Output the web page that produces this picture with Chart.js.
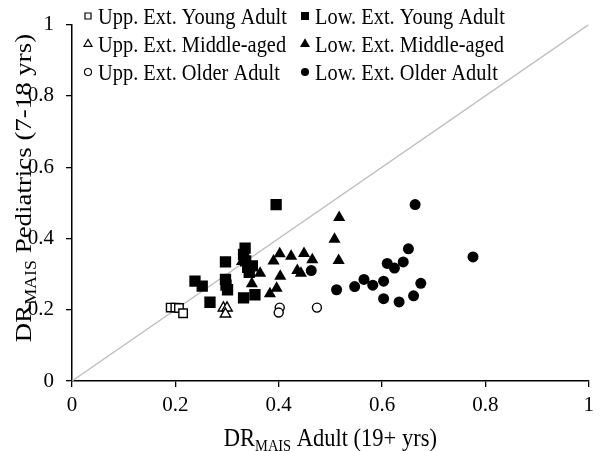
<!DOCTYPE html>
<html><head><meta charset="utf-8">
<script src="https://cdn.jsdelivr.net/npm/chart.js@4/dist/chart.umd.min.js"></script>
<style>html,body{margin:0;padding:0;background:#fff}#wrap{width:600px;height:451px}</style>
</head><body><div id="wrap"><canvas id="c" width="600" height="451"></canvas></div>
<script>
// ---- data ----
const uppYoungX = [0.191, 0.200, 0.207, 0.215];
const uppYoungY = [0.206, 0.206, 0.205, 0.190];
const uppMidX = [0.293, 0.300, 0.297];
const uppMidY = [0.205, 0.205, 0.188];
const uppOldX = [0.402, 0.400, 0.474];
const uppOldY = [0.206, 0.192, 0.206];
const lowYoungX = [0.395, 0.297, 0.238, 0.252, 0.267, 0.297, 0.298, 0.301, 0.335, 0.332, 0.336, 0.340, 0.343, 0.349, 0.332, 0.354];
const lowYoungY = [0.495, 0.334, 0.280, 0.266, 0.221, 0.285, 0.269, 0.256, 0.373, 0.355, 0.337, 0.319, 0.305, 0.323, 0.233, 0.242];
const lowMidX = [0.329, 0.348, 0.364, 0.383, 0.396, 0.390, 0.402, 0.403, 0.424, 0.436, 0.443, 0.449, 0.465, 0.508, 0.517, 0.516];
const lowMidY = [0.335, 0.273, 0.302, 0.245, 0.260, 0.337, 0.357, 0.294, 0.350, 0.310, 0.302, 0.358, 0.340, 0.398, 0.459, 0.338];
const lowOldX = [0.664, 0.776, 0.651, 0.641, 0.610, 0.624, 0.565, 0.582, 0.603, 0.547, 0.512, 0.603, 0.633, 0.661, 0.675, 0.463];
const lowOldY = [0.495, 0.348, 0.371, 0.334, 0.330, 0.317, 0.285, 0.269, 0.280, 0.265, 0.256, 0.231, 0.222, 0.239, 0.274, 0.310];
const diagX = [0, 1];
const diagY = [0, 1];
const tickValues = [0, 0.2, 0.4, 0.6, 0.8, 1];
const seriesLabels = ['Upp. Ext. Young Adult', 'Upp. Ext. Middle-aged', 'Upp. Ext. Older Adult',
                      'Low. Ext. Young Adult', 'Low. Ext. Middle-aged', 'Low. Ext. Older Adult'];
const xTitleParts = ['DR', 'MAIS', ' Adult (19+ yrs)'];
const yTitleParts = ['DR', 'MAIS', ' Pediatrics (7-18 yrs)'];

const pts = (xs, ys) => xs.map((x, i) => ({x: x, y: ys[i]}));
const FONT = 'Liberation Serif, Times New Roman, serif';

function mk(label, xs, ys, style, radius, filled, legendSize) {
  return {
    label: label, data: pts(xs, ys), pointStyle: style, pointRadius: radius, pointHoverRadius: radius,
    backgroundColor: filled ? '#000' : '#fff', borderColor: '#000', pointBorderWidth: filled ? 0 : 1.4,
    borderWidth: filled ? 0 : 1.4, showLine: false, legendStyle: style, legendSize: legendSize, filled: filled
  };
}

const datasets = [
  mk(seriesLabels[0], uppYoungX, uppYoungY, 'rect', 6, false, 6),
  mk(seriesLabels[1], uppMidX, uppMidY, 'triangle', 6, false, 8),
  mk(seriesLabels[2], uppOldX, uppOldY, 'circle', 4.5, false, 7),
  mk(seriesLabels[3], lowYoungX, lowYoungY, 'rect', 8, true, 8),
  mk(seriesLabels[4], lowMidX, lowMidY, 'triangle', 7, true, 10),
  mk(seriesLabels[5], lowOldX, lowOldY, 'circle', 5.5, true, 8),
  {label: 'diag', data: pts(diagX, diagY), showLine: true, pointRadius: 0, borderColor: '#bdbdbd',
   borderWidth: 1.3, order: 10, isDiag: true}
];

function drawMarker(ctx, style, x, y, size, filled) {
  ctx.beginPath();
  if (style === 'rect') ctx.rect(x - size / 2, y - size / 2, size, size);
  else if (style === 'triangle') {
    const h = size * 0.866;
    ctx.moveTo(x, y - h * 2 / 3); ctx.lineTo(x + size / 2, y + h / 3); ctx.lineTo(x - size / 2, y + h / 3); ctx.closePath();
  } else ctx.arc(x, y, size / 2, 0, Math.PI * 2);
  if (filled) { ctx.fillStyle = '#000'; ctx.fill(); }
  else { ctx.fillStyle = '#fff'; ctx.fill(); ctx.lineWidth = 1.2; ctx.strokeStyle = '#000'; ctx.stroke(); }
}

function drawTitle(ctx, parts, big, small, subDy) {
  const fonts = [big + 'px ' + FONT, small + 'px ' + FONT, big + 'px ' + FONT];
  let widths = parts.map((t, i) => { ctx.font = fonts[i]; return ctx.measureText(t).width; });
  const total = widths.reduce((a, b) => a + b, 0);
  let x = -total / 2;
  parts.forEach((t, i) => {
    ctx.font = fonts[i];
    ctx.fillText(t, x, i === 1 ? subDy : 0);
    x += widths[i];
  });
}

const decor = {
  id: 'decor',
  afterDraw(chart) {
    const ctx = chart.ctx, ca = chart.chartArea;
    ctx.save();
    ctx.fillStyle = '#000';
    ctx.textBaseline = 'alphabetic';
    ctx.textAlign = 'left';
    // legend
    const markX = [88, 305], textX = [98, 315], base = [24, 52, 80];
    chart.data.datasets.forEach((ds, i) => {
      if (ds.isDiag) return;
      const col = i < 3 ? 0 : 1, row = i % 3;
      drawMarker(ctx, ds.legendStyle, markX[col], base[row] - 8, ds.legendSize, ds.filled);
      ctx.save();
      ctx.translate(textX[col], base[row]);
      ctx.scale(0.85, 1);
      ctx.fillStyle = '#000';
      ctx.font = '24px ' + FONT;
      ctx.fillText(ds.label, 0, 0);
      ctx.restore();
    });
    // x title
    ctx.save();
    ctx.fillStyle = '#000';
    ctx.translate((ca.left + ca.right) / 2, 446);
    ctx.scale(0.9, 1);
    drawTitle(ctx, xTitleParts, 25, 16, 5);
    ctx.restore();
    // y title
    ctx.save();
    ctx.fillStyle = '#000';
    ctx.translate(31, 188);
    ctx.rotate(-Math.PI / 2);
    ctx.scale(1.12, 1);
    drawTitle(ctx, yTitleParts, 24, 16, 5);
    ctx.restore();
    ctx.restore();
  }
};

const axisCommon = {
  type: 'linear', min: 0, max: 1,
  afterBuildTicks: s => { s.ticks = tickValues.map(v => ({value: v})); },
  grid: {drawOnChartArea: false, drawTicks: true, tickLength: 6, color: '#000', lineWidth: 1.3},
  border: {color: '#000', width: 1.5},
};

new Chart(document.getElementById('c'), {
  type: 'scatter',
  data: {datasets: datasets},
  options: {
    responsive: false, animation: false, devicePixelRatio: 1,
    layout: {padding: {left: 0, right: 6, top: 12, bottom: 0}},
    plugins: {legend: {display: false}, tooltip: {enabled: false}},
    scales: {
      x: Object.assign({}, axisCommon, {
        ticks: {font: {family: FONT, size: 21}, color: '#000', padding: 6, maxRotation: 0,
                callback: v => String(v)},
        afterFit: s => { s.height = 70; }
      }),
      y: Object.assign({}, axisCommon, {
        ticks: {font: {family: FONT, size: 21}, color: '#000', padding: 12,
                callback: v => String(v)},
        afterFit: s => { s.width = 72; }
      })
    }
  },
  plugins: [decor]
});
</script>
</body></html>
